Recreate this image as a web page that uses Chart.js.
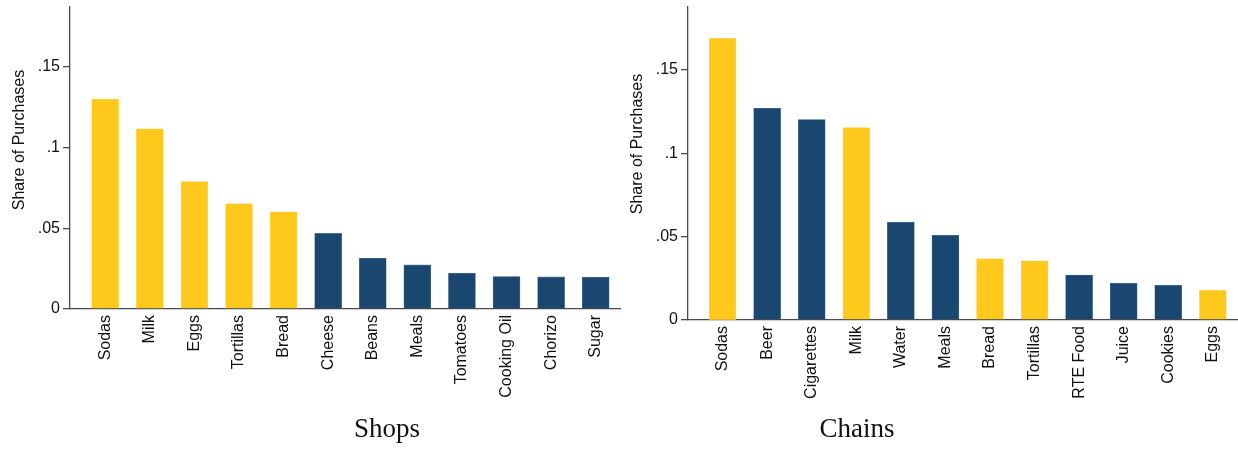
<!DOCTYPE html>
<html>
<head>
<meta charset="utf-8">
<script src="https://cdn.jsdelivr.net/npm/chart.js@4.4.1/dist/chart.umd.min.js"></script>
<style>
  html, body { margin: 0; padding: 0; background: #fff; }
  #wrap { position: relative; width: 1238px; height: 449px; overflow: hidden; background: #fff; }
  .cv { position: absolute; top: 0; }
  .cap { position: absolute; top: 415px; font-family: "Liberation Serif", "DejaVu Serif", serif; font-size: 27px; line-height: 27px; color: #111; transform: translateX(-50%); white-space: nowrap; }
</style>
</head>
<body>
<div id="wrap">
  <div class="cv" style="left:0px;width:630px;height:449px;"><canvas id="shops"></canvas></div>
  <div class="cv" style="left:620px;width:618px;height:449px;"><canvas id="chains"></canvas></div>
  <div class="cap" style="left:387px;">Shops</div>
  <div class="cap" style="left:857px;">Chains</div>
</div>
<script>
// ---- data ----
const shopsLabels = ['Sodas','Milk','Eggs','Tortillas','Bread','Cheese','Beans','Meals','Tomatoes','Cooking Oil','Chorizo','Sugar'];
const shopsValues = [0.130, 0.1116, 0.0789, 0.0652, 0.0602, 0.0468, 0.0315, 0.0273, 0.0222, 0.0201, 0.0199, 0.0197];

const chainsLabels = ['Sodas','Beer','Cigarettes','Milk','Water','Meals','Bread','Tortillas','RTE Food','Juice','Cookies','Eggs'];
const chainsValues = [0.169, 0.127, 0.1202, 0.1154, 0.0587, 0.0508, 0.0368, 0.0355, 0.027, 0.022, 0.0208, 0.0178];

const highlighted = ['Sodas','Milk','Eggs','Tortillas','Bread'];
const yTicks = [0, 0.05, 0.1, 0.15];
const yTitle = 'Share of Purchases';

// ---- styling ----
const YELLOW = '#FFC91B';
const NAVY = '#1A476F';
const AXIS = '#4a4a4a';
const SANS = '"Liberation Sans", Arial, Helvetica, sans-serif';

function fmt(v) {
  if (Math.abs(v) < 1e-9) return '0';
  return Number(v.toFixed(3)).toString().replace(/^0\./, '.');
}

const yTitlePlugin = {
  id: 'yTitlePlugin',
  afterDraw(chart, args, opts) {
    const c = chart.ctx;
    c.save();
    c.translate(opts.x, opts.y);
    c.rotate(-Math.PI / 2);
    c.fillStyle = '#111';
    c.font = '16px ' + SANS;
    c.textAlign = 'center';
    c.textBaseline = 'middle';
    c.fillText(opts.text, 0, 0);
    c.restore();
  }
};

function makeChart(id, labels, values, cfg) {
  const ctx = document.getElementById(id);
  return new Chart(ctx, {
    type: 'bar',
    data: {
      datasets: [{
        data: values.map((v, i) => ({ x: i, y: v })),
        backgroundColor: labels.map(l => highlighted.includes(l) ? YELLOW : NAVY),
        borderColor: labels.map(l => highlighted.includes(l) ? '#FFE07A' : '#5E7FA0'),
        borderWidth: 0.6,
        barThickness: 27,
        borderSkipped: 'bottom'
      }]
    },
    plugins: [yTitlePlugin],
    options: {
      responsive: true,
      maintainAspectRatio: false,
      animation: false,
      devicePixelRatio: 1,
      layout: { padding: { top: cfg.top, right: cfg.right, left: 0, bottom: 0 } },
      plugins: {
        legend: { display: false }, tooltip: { enabled: false }, title: { display: false },
        yTitlePlugin: { text: yTitle, x: cfg.tx, y: cfg.ty }
      },
      scales: {
        x: {
          type: 'linear',
          offset: false,
          min: cfg.xmin,
          max: cfg.xmax,
          afterBuildTicks: s => { s.ticks = labels.map((_, i) => ({ value: i })); },
          afterFit: s => { s.height = cfg.xh; s.paddingLeft = 0; s.paddingRight = 0; },
          grid: { display: false, drawTicks: false, offset: false },
          border: { display: true, color: AXIS, width: 1.3 },
          ticks: {
            autoSkip: false,
            maxRotation: 90,
            minRotation: 90,
            padding: 6,
            color: '#111',
            font: { family: SANS, size: 16 },
            callback: v => labels[v]
          }
        },
        y: {
          min: 0,
          max: cfg.ymax,
          afterBuildTicks: s => { s.ticks = yTicks.map(v => ({ value: v })); },
          afterFit: s => { s.width = cfg.yw; s.paddingTop = 0; s.paddingBottom = 0; },
          grid: { drawOnChartArea: false, drawTicks: true, tickLength: 7, color: AXIS, lineWidth: 1.3 },
          border: { display: true, color: AXIS, width: 1.3 },
          ticks: {
            padding: 3,
            color: '#111',
            font: { family: SANS, size: 16 },
            callback: v => fmt(v)
          },
          title: { display: false }
        }
      }
    }
  });
}

makeChart('shops', shopsLabels, shopsValues, {
  top: 7, right: 10, xmin: -0.79, xmax: 11.545, ymax: 0.187, xh: 140, yw: 70, tx: 20, ty: 140
});
makeChart('chains', chainsLabels, chainsValues, {
  top: 7, right: 0, xmin: -0.776, xmax: 11.565, ymax: 0.1877, xh: 129, yw: 68, tx: 18, ty: 144
});
</script>
</body>
</html>
